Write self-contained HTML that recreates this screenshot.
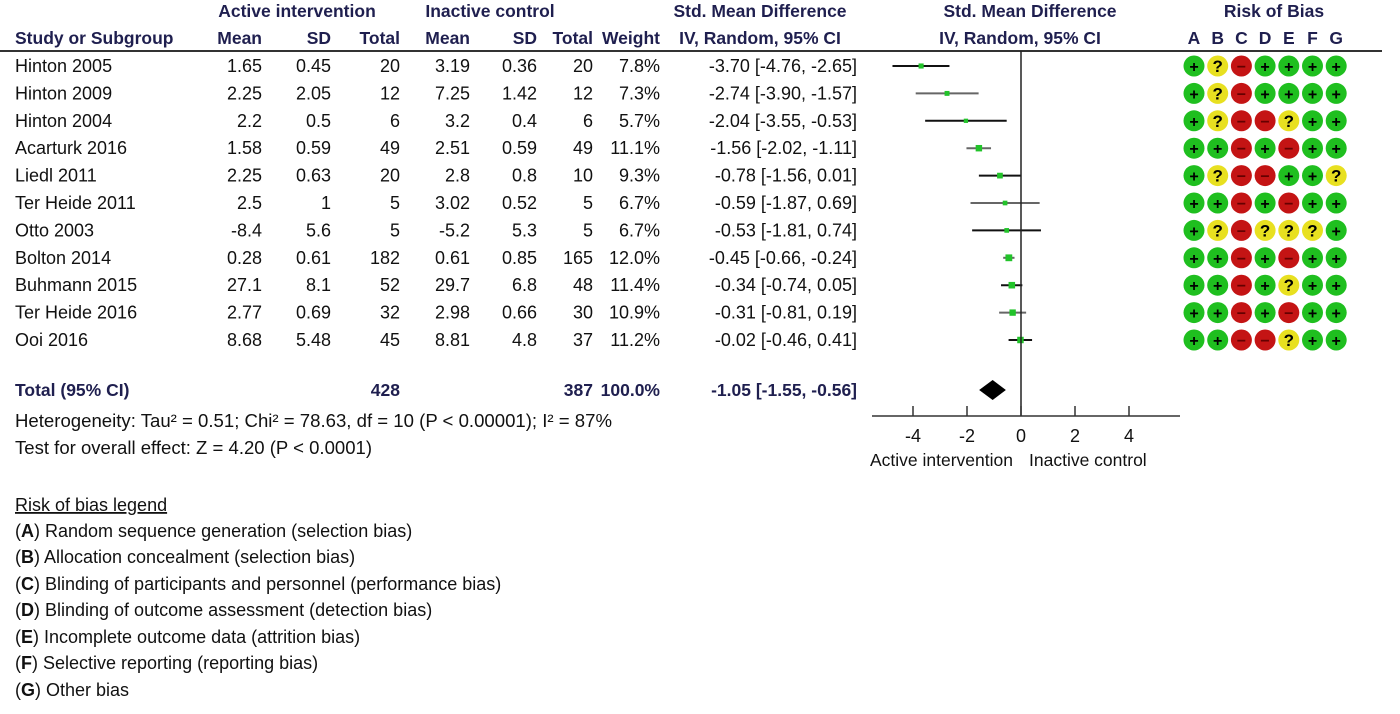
<!DOCTYPE html>
<html><head><meta charset="utf-8"><style>
body{margin:0;background:#fff}
svg{font-family:"Liberation Sans",Arial,sans-serif;font-size:18px}
.h{fill:#1f1f4f;font-weight:bold;font-size:17.5px}
.t{fill:#111}
</style></head><body>
<svg id="chart" width="1400" height="709" xmlns="http://www.w3.org/2000/svg">
<g id="hdr">
<text class="h" x="297" y="17" text-anchor="middle">Active intervention</text>
<text class="h" x="490" y="17" text-anchor="middle">Inactive control</text>
<text class="h" x="760" y="17" text-anchor="middle">Std. Mean Difference</text>
<text class="h" x="1030" y="17" text-anchor="middle">Std. Mean Difference</text>
<text class="h" x="1274" y="17" text-anchor="middle">Risk of Bias</text>
<text class="h" x="15" y="44">Study or Subgroup</text>
<text class="h" x="262" y="44" text-anchor="end">Mean</text>
<text class="h" x="331" y="44" text-anchor="end">SD</text>
<text class="h" x="400" y="44" text-anchor="end">Total</text>
<text class="h" x="470" y="44" text-anchor="end">Mean</text>
<text class="h" x="537" y="44" text-anchor="end">SD</text>
<text class="h" x="593" y="44" text-anchor="end">Total</text>
<text class="h" x="660" y="44" text-anchor="end">Weight</text>
<text class="h" x="760" y="44" text-anchor="middle">IV, Random, 95% CI</text>
<text class="h" x="1020" y="44" text-anchor="middle">IV, Random, 95% CI</text>
</g>
<line x1="0" y1="51" x2="1382" y2="51" stroke="#333" stroke-width="2"/>
<g id="rows"></g>
<g id="forest"></g>
<g id="rob"></g>
<g>
<text class="h" x="15" y="396">Total (95% CI)</text>
<text class="h" x="400" y="396" text-anchor="end">428</text>
<text class="h" x="593" y="396" text-anchor="end">387</text>
<text class="h" x="660" y="396" text-anchor="end">100.0%</text>
<text class="h" x="857" y="396" text-anchor="end">-1.05 [-1.55, -0.56]</text>
</g>
<text class="t" x="15" y="427" textLength="597" lengthAdjust="spacingAndGlyphs">Heterogeneity: Tau² = 0.51; Chi² = 78.63, df = 10 (P &lt; 0.00001); I² = 87%</text>
<text class="t" x="15" y="454" textLength="357" lengthAdjust="spacingAndGlyphs">Test for overall effect: Z = 4.20 (P &lt; 0.0001)</text>
<g>
<text class="t" x="15" y="511" text-decoration="underline">Risk of bias legend</text>
<text class="t" x="15" y="537">(<tspan font-weight="bold">A</tspan>) Random sequence generation (selection bias)</text>
<text class="t" x="15" y="563">(<tspan font-weight="bold">B</tspan>) Allocation concealment (selection bias)</text>
<text class="t" x="15" y="590">(<tspan font-weight="bold">C</tspan>) Blinding of participants and personnel (performance bias)</text>
<text class="t" x="15" y="616">(<tspan font-weight="bold">D</tspan>) Blinding of outcome assessment (detection bias)</text>
<text class="t" x="15" y="643">(<tspan font-weight="bold">E</tspan>) Incomplete outcome data (attrition bias)</text>
<text class="t" x="15" y="669">(<tspan font-weight="bold">F</tspan>) Selective reporting (reporting bias)</text>
<text class="t" x="15" y="696">(<tspan font-weight="bold">G</tspan>) Other bias</text>
</g>
</svg>
<script>
const studies=["Hinton 2005","Hinton 2009","Hinton 2004","Acarturk 2016","Liedl 2011","Ter Heide 2011","Otto 2003","Bolton 2014","Buhmann 2015","Ter Heide 2016","Ooi 2016"];
const meanA=["1.65","2.25","2.2","1.58","2.25","2.5","-8.4","0.28","27.1","2.77","8.68"];
const sdA=["0.45","2.05","0.5","0.59","0.63","1","5.6","0.61","8.1","0.69","5.48"];
const nA=["20","12","6","49","20","5","5","182","52","32","45"];
const meanC=["3.19","7.25","3.2","2.51","2.8","3.02","-5.2","0.61","29.7","2.98","8.81"];
const sdC=["0.36","1.42","0.4","0.59","0.8","0.52","5.3","0.85","6.8","0.66","4.8"];
const nC=["20","12","6","49","10","5","5","165","48","30","37"];
const weight=[7.8,7.3,5.7,11.1,9.3,6.7,6.7,12.0,11.4,10.9,11.2];
const smd=[-3.70,-2.74,-2.04,-1.56,-0.78,-0.59,-0.53,-0.45,-0.34,-0.31,-0.02];
const lo=[-4.76,-3.90,-3.55,-2.02,-1.56,-1.87,-1.81,-0.66,-0.74,-0.81,-0.46];
const hi=[-2.65,-1.57,-0.53,-1.11,0.01,0.69,0.74,-0.24,0.05,0.19,0.41];
const total=[-1.05,-1.55,-0.56];
const ticks=[-4,-2,0,2,4];
const robCols=["A","B","C","D","E","F","G"];
const rob=["+?-++++","+?-++++","+?--?++","++-+-++","+?--++?","++-+-++","+?-???+","++-+-++","++-+?++","++-+-++","++--?++"];
const NS="http://www.w3.org/2000/svg";
const X=v=>1021+v*27;
const Y=i=>66+i*27.4;
function mk(tag,attrs,parent,txt){const e=document.createElementNS(NS,tag);for(const k in attrs)e.setAttribute(k,attrs[k]);if(txt!==undefined)e.textContent=txt;parent.appendChild(e);return e;}
const rows=document.getElementById('rows'),forest=document.getElementById('forest'),robG=document.getElementById('rob');
const fmt=v=>v.toFixed(2);
studies.forEach((s,i)=>{
  const g=mk('g',{},rows);
  
  
  const y=Y(i)+6;
  const cols=[[15,s,'start'],[262,meanA[i]],[331,sdA[i]],[400,nA[i]],[470,meanC[i]],[537,sdC[i]],[593,nC[i]],[660,weight[i].toFixed(1)+'%'],[857,fmt(smd[i])+' ['+fmt(lo[i])+', '+fmt(hi[i])+']']];
  cols.forEach(c=>{const t=mk('text',{x:c[0],y:y,'text-anchor':c[2]||'end',class:'t'},g,c[1]);});
  const yy=Y(i);
  const ln=mk('line',{x1:X(lo[i]),x2:X(hi[i]),y1:yy,y2:yy,stroke:i%2?'#666':'#111','stroke-width':2},forest);
  
  
  const sz=2+weight[i]*0.4;
  const sq=mk('rect',{x:X(smd[i])-sz/2,y:yy-sz/2,width:sz,height:sz,fill:'#22c32a'},forest);
  
  
  rob[i].split('').forEach((c,j)=>{
    const cx=1194+j*23.7;
    const col=c=='+'?'#1fbf1f':c=='?'?'#e8e020':'#c41414';
    const ci=mk('circle',{cx:cx,cy:yy,r:10.5,fill:col},robG);
    
    
    const tx=mk('text',{x:cx,y:yy+6,'text-anchor':'middle','font-weight':'bold','font-size':c=='?'?'17':'16',fill:c=='-'?'#600':'#000'},robG,c=='-'?'−':c);
    
    
  });
});
robCols.forEach((c,j)=>{const t=mk('text',{x:1194+j*23.7,y:44,'text-anchor':'middle',class:'h'},robG,c);});
const zl=mk('line',{x1:X(0),x2:X(0),y1:51,y2:416,stroke:'#222','stroke-width':1.5},forest);


const ty=390;
const d=mk('polygon',{points:`${X(total[1])},${ty} ${X(total[0])},${ty-10} ${X(total[2])},${ty} ${X(total[0])},${ty+10}`,fill:'#000'},forest);


const ax=mk('line',{x1:872,x2:1180,y1:416,y2:416,stroke:'#333','stroke-width':1.5},forest);


ticks.forEach(v=>{
  const tk=mk('line',{x1:X(v),x2:X(v),y1:406,y2:416,stroke:'#333','stroke-width':1.5},forest);
  
  
  const tl=mk('text',{x:X(v),y:442,'text-anchor':'middle',class:'t'},forest,String(v));
  
  
});
const l1=mk('text',{x:870,y:466,class:'t','font-size':'17.5'},forest,'Active intervention');


const l2=mk('text',{x:1029,y:466,class:'t','font-size':'17.5'},forest,'Inactive control');


</script>
</body></html>
